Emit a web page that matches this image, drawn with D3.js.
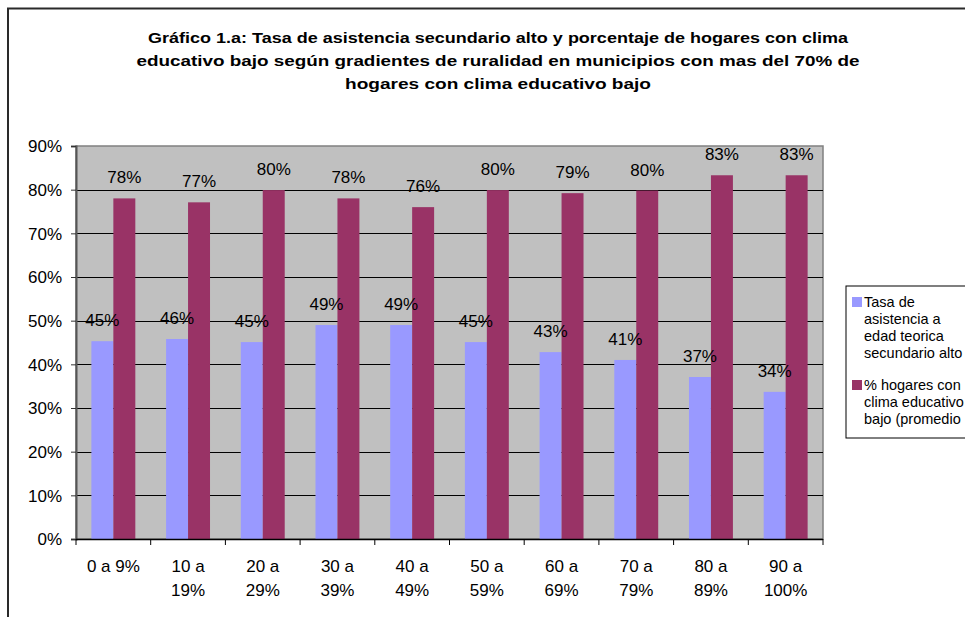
<!DOCTYPE html>
<html><head><meta charset="utf-8">
<script src="https://cdn.jsdelivr.net/npm/d3@7/dist/d3.min.js"></script>
<style>body{margin:0;background:#fff}svg{display:block;font-family:"Liberation Sans",Arial,sans-serif}</style>
</head><body><svg id="c" width="965" height="617"></svg>
<script>
const categories = [["0 a 9%"],["10 a","19%"],["20 a","29%"],["30 a","39%"],["40 a","49%"],["50 a","59%"],["60 a","69%"],["70 a","79%"],["80 a","89%"],["90 a","100%"]];
const asistencia = [45.3,45.8,45.1,49.0,49.0,45.1,42.8,41.0,37.1,33.7];
const asistenciaLabels = ["45%","46%","45%","49%","49%","45%","43%","41%","37%","34%"];
const hogares = [78.0,77.1,79.9,78.0,76.0,79.9,79.2,79.8,83.3,83.3];
const hogaresLabels = ["78%","77%","80%","78%","76%","80%","79%","80%","83%","83%"];
const yTicks = [0,10,20,30,40,50,60,70,80,90];
const titleLines = ["Gráfico 1.a: Tasa de asistencia secundario alto y porcentaje de hogares con clima","educativo bajo según gradientes de ruralidad en municipios con mas del 70% de","hogares con clima educativo bajo"];
const titleWidths = [700,723,306];
const legendItems = [["Tasa de","asistencia a","edad teorica","secundario alto"],["% hogares con","clima educativo","bajo (promedio"]];
const colors = ["#9999FF","#993366"];

const svg = d3.select("#c");
const L=76,R=823,T=146,B=539;
// frame
svg.append("path").attr("d","M8,617 V8.5 H965").attr("fill","none").attr("stroke","#2a2a2a").attr("stroke-width",2);
// title
svg.append("g").selectAll("text").data(titleLines).join("text")
  .attr("x",498).attr("y",(d,i)=>43+i*23).attr("text-anchor","middle")
  .attr("font-weight","bold").attr("font-size",15.5)
  .attr("textLength",(d,i)=>titleWidths[i]).attr("lengthAdjust","spacingAndGlyphs").text(d=>d);

const x = d3.scaleBand().domain(d3.range(categories.length)).range([L,R]).padding(0);
const xs = d3.scaleBand().domain([0,1]).range([0,x.bandwidth()]).paddingInner(0).paddingOuter(0.7);
const y = d3.scaleLinear().domain([0,90]).range([B,T]);

svg.append("rect").attr("x",L).attr("y",T).attr("width",R-L).attr("height",B-T).attr("fill","#C0C0C0").attr("stroke","#808080").attr("stroke-width",1.5);
// gridlines
svg.append("g").selectAll("line").data(yTicks.filter(t=>t>0&&t<90)).join("line")
  .attr("x1",L).attr("x2",R).attr("y1",d=>Math.round(y(d))+0.5).attr("y2",d=>Math.round(y(d))+0.5).attr("stroke","#000").attr("stroke-width",1);

const series=[asistencia,hogares];
series.forEach((s,si)=>{
  svg.append("g").selectAll("rect").data(s).join("rect")
    .attr("x",(d,i)=>x(i)+xs(si)).attr("width",xs.bandwidth())
    .attr("y",d=>y(d)).attr("height",d=>B-y(d)).attr("fill",colors[si]);
});
// axes
const ya = svg.append("g").attr("transform",`translate(${L},0)`).call(d3.axisLeft(y).tickValues(yTicks).tickSize(5).tickFormat(d=>d+"%"));
ya.select(".domain").attr("stroke","#555").attr("stroke-width",2);
ya.selectAll(".tick line").attr("stroke","#333");
ya.selectAll("text").attr("font-size",17).attr("font-family","Liberation Sans, Arial").attr("fill","#000").attr("x",-14).attr("dy","0.35em");

svg.append("line").attr("x1",L).attr("x2",R).attr("y1",B+0.5).attr("y2",B+0.5).attr("stroke","#000").attr("stroke-width",1.5);
svg.append("g").selectAll("line").data(d3.range(categories.length+1)).join("line")
  .attr("x1",i=>L+i*x.step()).attr("x2",i=>L+i*x.step()).attr("y1",B).attr("y2",B+6).attr("stroke","#000");
const cl = svg.append("g").selectAll("text").data(categories).join("text")
  .attr("text-anchor","middle").attr("font-size",17)
  .attr("transform",(d,i)=>`translate(${x(i)+x.bandwidth()/2},0)`);
cl.selectAll("tspan").data(d=>d).join("tspan").attr("x",0).attr("y",(d,j)=>572+j*23.5).text(d=>d);

// data labels
const labs=[asistenciaLabels,hogaresLabels];
series.forEach((s,si)=>{
  svg.append("g").selectAll("text").data(s).join("text")
    .attr("x",(d,i)=>x(i)+xs(si)+xs.bandwidth()/2).attr("y",d=>y(d)-15)
    .attr("text-anchor","middle").attr("font-size",17).text((d,i)=>labs[si][i]);
});

// legend
svg.append("rect").attr("x",846).attr("y",286).attr("width",130).attr("height",152).attr("fill","#fff").attr("stroke","#000").attr("stroke-width",1);
const lineH=17;
let ly=[306.5,389.5];
legendItems.forEach((it,k)=>{
  svg.append("rect").attr("x",852).attr("y",ly[k]-9.5).attr("width",10).attr("height",10).attr("fill",colors[k]);
  svg.append("g").selectAll("text").data(it).join("text").attr("x",864).attr("y",(d,j)=>ly[k]+j*lineH).attr("font-size",14.5).text(d=>d);
});
</script></body></html>
